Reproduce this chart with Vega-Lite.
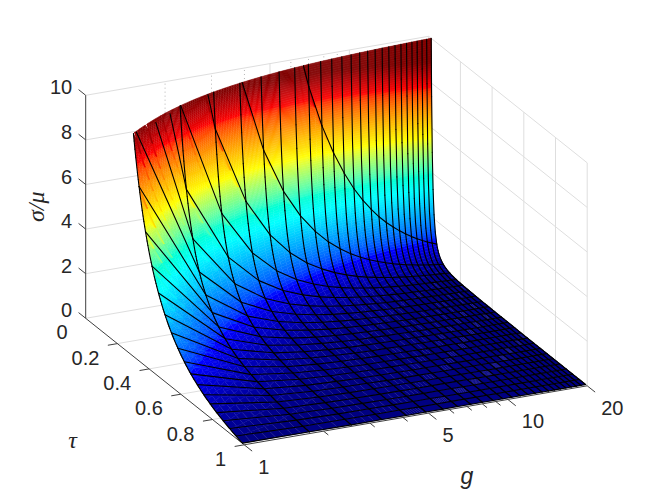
{"$schema":"https://vega.github.io/schema/vega-lite/v6.json","width":650,"height":500,"padding":0,"autosize":{"type":"fit","contains":"padding"},"background":"white","view":{"stroke":null},
"datasets":{
"surf":[
{"g":1,"v":[9999,386,118,56,32.3,20.8,14.4,10.4,7.82,6.02,4.71,3.74,3,2.42,1.96,1.58,1.27,1.02,0.8,0.62,0.46,0.33,0.21,0.11,0.02]},
{"g":1.792,"v":[3115,120,36.8,17.4,10.1,6.48,4.49,3.24,2.44,1.88,1.47,1.17,0.93,0.75,0.61,0.49,0.4,0.32,0.25,0.19,0.14,0.1,0.07,0.03,0.01]},
{"g":2.583,"v":[1499,57.9,17.7,8.4,4.84,3.12,2.16,1.56,1.17,0.9,0.71,0.56,0.45,0.36,0.29,0.24,0.19,0.15,0.12,0.09,0.07,0.05,0.03,0.02,0]},
{"g":3.375,"v":[878,33.9,10.4,4.92,2.84,1.83,1.26,0.91,0.69,0.53,0.41,0.33,0.26,0.21,0.17,0.14,0.11,0.09,0.07,0.05,0.04,0.03,0.02,0.01,0]},
{"g":4.167,"v":[576,22.2,6.8,3.23,1.86,1.2,0.83,0.6,0.45,0.35,0.27,0.22,0.17,0.14,0.11,0.09,0.07,0.06,0.05,0.04,0.03,0.02,0.01,0.01,0]},
{"g":4.958,"v":[407,15.7,4.8,2.28,1.31,0.85,0.59,0.42,0.32,0.24,0.19,0.15,0.12,0.1,0.08,0.06,0.05,0.04,0.03,0.03,0.02,0.01,0.01,0,0]},
{"g":5.75,"v":[302,11.7,3.57,1.69,0.98,0.63,0.44,0.31,0.24,0.18,0.14,0.11,0.09,0.07,0.06,0.05,0.04,0.03,0.02,0.02,0.01,0.01,0.01,0,0]},
{"g":6.542,"v":[234,9.02,2.76,1.31,0.75,0.49,0.34,0.24,0.18,0.14,0.11,0.09,0.07,0.06,0.05,0.04,0.03,0.02,0.02,0.01,0.01,0.01,0,0,0]},
{"g":7.333,"v":[186,7.17,2.19,1.04,0.6,0.39,0.27,0.19,0.15,0.11,0.09,0.07,0.06,0.04,0.04,0.03,0.02,0.02,0.01,0.01,0.01,0.01,0,0,0]},
{"g":8.125,"v":[151,5.85,1.79,0.85,0.49,0.32,0.22,0.16,0.12,0.09,0.07,0.06,0.05,0.04,0.03,0.02,0.02,0.02,0.01,0.01,0.01,0,0,0,0]},
{"g":8.917,"v":[126,4.86,1.48,0.7,0.41,0.26,0.18,0.13,0.1,0.08,0.06,0.05,0.04,0.03,0.02,0.02,0.02,0.01,0.01,0.01,0.01,0,0,0,0]},
{"g":9.708,"v":[106,4.09,1.25,0.59,0.34,0.22,0.15,0.11,0.08,0.06,0.05,0.04,0.03,0.03,0.02,0.02,0.01,0.01,0.01,0.01,0,0,0,0,0]},
{"g":10.5,"v":[90.7,3.5,1.07,0.51,0.29,0.19,0.13,0.09,0.07,0.05,0.04,0.03,0.03,0.02,0.02,0.01,0.01,0.01,0.01,0.01,0,0,0,0,0]},
{"g":11.29,"v":[78.4,3.03,0.93,0.44,0.25,0.16,0.11,0.08,0.06,0.05,0.04,0.03,0.02,0.02,0.02,0.01,0.01,0.01,0.01,0,0,0,0,0,0]},
{"g":12.08,"v":[68.5,2.64,0.81,0.38,0.22,0.14,0.1,0.07,0.05,0.04,0.03,0.03,0.02,0.02,0.01,0.01,0.01,0.01,0.01,0,0,0,0,0,0]},
{"g":12.875,"v":[60.3,2.33,0.71,0.34,0.19,0.13,0.09,0.06,0.05,0.04,0.03,0.02,0.02,0.01,0.01,0.01,0.01,0.01,0,0,0,0,0,0,0]},
{"g":13.67,"v":[53.5,2.07,0.63,0.3,0.17,0.11,0.08,0.06,0.04,0.03,0.03,0.02,0.02,0.01,0.01,0.01,0.01,0.01,0,0,0,0,0,0,0]},
{"g":14.46,"v":[47.8,1.85,0.56,0.27,0.15,0.1,0.07,0.05,0.04,0.03,0.02,0.02,0.01,0.01,0.01,0.01,0.01,0,0,0,0,0,0,0,0]},
{"g":15.25,"v":[43,1.66,0.51,0.24,0.14,0.09,0.06,0.04,0.03,0.03,0.02,0.02,0.01,0.01,0.01,0.01,0.01,0,0,0,0,0,0,0,0]},
{"g":16.04,"v":[38.9,1.5,0.46,0.22,0.13,0.08,0.06,0.04,0.03,0.02,0.02,0.01,0.01,0.01,0.01,0.01,0,0,0,0,0,0,0,0,0]},
{"g":16.83,"v":[35.3,1.36,0.42,0.2,0.11,0.07,0.05,0.04,0.03,0.02,0.02,0.01,0.01,0.01,0.01,0.01,0,0,0,0,0,0,0,0,0]},
{"g":17.63,"v":[32.2,1.24,0.38,0.18,0.1,0.07,0.05,0.03,0.03,0.02,0.02,0.01,0.01,0.01,0.01,0.01,0,0,0,0,0,0,0,0,0]},
{"g":18.42,"v":[29.5,1.14,0.35,0.17,0.1,0.06,0.04,0.03,0.02,0.02,0.01,0.01,0.01,0.01,0.01,0,0,0,0,0,0,0,0,0,0]},
{"g":19.21,"v":[27.1,1.05,0.32,0.15,0.09,0.06,0.04,0.03,0.02,0.02,0.01,0.01,0.01,0.01,0.01,0,0,0,0,0,0,0,0,0,0]},
{"g":20,"v":[25,0.97,0.3,0.14,0.08,0.05,0.04,0.03,0.02,0.02,0.01,0.01,0.01,0.01,0,0,0,0,0,0,0,0,0,0,0]}
],
"frame":[
{"k":"grid","g":1,"t":0,"z":0,"g2":20,"t2":0,"z2":0},{"k":"grid","g":1,"t":0,"z":2,"g2":20,"t2":0,"z2":2},{"k":"grid","g":1,"t":0,"z":4,"g2":20,"t2":0,"z2":4},{"k":"grid","g":1,"t":0,"z":6,"g2":20,"t2":0,"z2":6},{"k":"grid","g":1,"t":0,"z":8,"g2":20,"t2":0,"z2":8},{"k":"grid","g":1,"t":0,"z":10,"g2":20,"t2":0,"z2":10},
{"k":"grid","g":20,"t":0,"z":0,"g2":20,"t2":1,"z2":0},{"k":"grid","g":20,"t":0,"z":2,"g2":20,"t2":1,"z2":2},{"k":"grid","g":20,"t":0,"z":4,"g2":20,"t2":1,"z2":4},{"k":"grid","g":20,"t":0,"z":6,"g2":20,"t2":1,"z2":6},{"k":"grid","g":20,"t":0,"z":8,"g2":20,"t2":1,"z2":8},{"k":"grid","g":20,"t":0,"z":10,"g2":20,"t2":1,"z2":10},
{"k":"grid","g":5,"t":0,"z":0,"g2":5,"t2":0,"z2":10},{"k":"grid","g":10,"t":0,"z":0,"g2":10,"t2":0,"z2":10},{"k":"grid","g":20,"t":0,"z":0,"g2":20,"t2":0,"z2":10},
{"k":"grid","g":20,"t":0.2,"z":0,"g2":20,"t2":0.2,"z2":10},{"k":"grid","g":20,"t":0.4,"z":0,"g2":20,"t2":0.4,"z2":10},{"k":"grid","g":20,"t":0.6,"z":0,"g2":20,"t2":0.6,"z2":10},{"k":"grid","g":20,"t":0.8,"z":0,"g2":20,"t2":0.8,"z2":10},{"k":"grid","g":20,"t":1,"z":0,"g2":20,"t2":1,"z2":10},
{"k":"grid","g":1,"t":0.2,"z":0,"g2":20,"t2":0.2,"z2":0},{"k":"grid","g":1,"t":0.4,"z":0,"g2":20,"t2":0.4,"z2":0},{"k":"grid","g":1,"t":0.6,"z":0,"g2":20,"t2":0.6,"z2":0},{"k":"grid","g":1,"t":0.8,"z":0,"g2":20,"t2":0.8,"z2":0},
{"k":"minor","g":2,"t":0,"z":0,"g2":2,"t2":0,"z2":10},{"k":"minor","g":3,"t":0,"z":0,"g2":3,"t2":0,"z2":10},{"k":"minor","g":4,"t":0,"z":0,"g2":4,"t2":0,"z2":10},{"k":"minor","g":6,"t":0,"z":0,"g2":6,"t2":0,"z2":10},{"k":"minor","g":7,"t":0,"z":0,"g2":7,"t2":0,"z2":10},{"k":"minor","g":8,"t":0,"z":0,"g2":8,"t2":0,"z2":10},{"k":"minor","g":9,"t":0,"z":0,"g2":9,"t2":0,"z2":10},
{"k":"axis","g":1,"t":0,"z":0,"g2":1,"t2":0,"z2":10},{"k":"axis","g":1,"t":0,"z":0,"g2":1,"t2":1,"z2":0},{"k":"axis","g":1,"t":1,"z":0,"g2":20,"t2":1,"z2":0},
{"k":"axis","g":1,"t":0,"z":0,"g2":1,"t2":-0.045,"z2":0},{"k":"axis","g":1,"t":0,"z":2,"g2":1,"t2":-0.045,"z2":2},{"k":"axis","g":1,"t":0,"z":4,"g2":1,"t2":-0.045,"z2":4},{"k":"axis","g":1,"t":0,"z":6,"g2":1,"t2":-0.045,"z2":6},{"k":"axis","g":1,"t":0,"z":8,"g2":1,"t2":-0.045,"z2":8},{"k":"axis","g":1,"t":0,"z":10,"g2":1,"t2":-0.045,"z2":10},
{"k":"axis","g":1,"t":0.2,"z":0,"g2":0.92,"t2":0.2,"z2":0},{"k":"axis","g":1,"t":0.4,"z":0,"g2":0.92,"t2":0.4,"z2":0},{"k":"axis","g":1,"t":0.6,"z":0,"g2":0.92,"t2":0.6,"z2":0},{"k":"axis","g":1,"t":0.8,"z":0,"g2":0.92,"t2":0.8,"z2":0},{"k":"axis","g":1,"t":1,"z":0,"g2":0.92,"t2":1,"z2":0},
{"k":"axis","g":1,"t":1,"z":0,"g2":1,"t2":1.05,"z2":0},{"k":"axis","g":5,"t":1,"z":0,"g2":5,"t2":1.05,"z2":0},{"k":"axis","g":10,"t":1,"z":0,"g2":10,"t2":1.05,"z2":0},{"k":"axis","g":20,"t":1,"z":0,"g2":20,"t2":1.05,"z2":0},
{"k":"axis","g":2,"t":1,"z":0,"g2":2,"t2":1.03,"z2":0},{"k":"axis","g":3,"t":1,"z":0,"g2":3,"t2":1.03,"z2":0},{"k":"axis","g":4,"t":1,"z":0,"g2":4,"t2":1.03,"z2":0},{"k":"axis","g":6,"t":1,"z":0,"g2":6,"t2":1.03,"z2":0},{"k":"axis","g":7,"t":1,"z":0,"g2":7,"t2":1.03,"z2":0},{"k":"axis","g":8,"t":1,"z":0,"g2":8,"t2":1.03,"z2":0},{"k":"axis","g":9,"t":1,"z":0,"g2":9,"t2":1.03,"z2":0}
],
"labels":[
{"a":"z","s":"0","g":1,"t":0,"z":0},{"a":"z","s":"2","g":1,"t":0,"z":2},{"a":"z","s":"4","g":1,"t":0,"z":4},{"a":"z","s":"6","g":1,"t":0,"z":6},{"a":"z","s":"8","g":1,"t":0,"z":8},{"a":"z","s":"10","g":1,"t":0,"z":10},
{"a":"t","s":"0","g":1,"t":0,"z":0},{"a":"t","s":"0.2","g":1,"t":0.2,"z":0},{"a":"t","s":"0.4","g":1,"t":0.4,"z":0},{"a":"t","s":"0.6","g":1,"t":0.6,"z":0},{"a":"t","s":"0.8","g":1,"t":0.8,"z":0},{"a":"t","s":"1","g":1,"t":1,"z":0},
{"a":"g","s":"1","g":1,"t":1,"z":0},{"a":"g","s":"5","g":5,"t":1,"z":0},{"a":"g","s":"10","g":10,"t":1,"z":0},{"a":"g","s":"20","g":20,"t":1,"z":0}
],
"titles":[{"a":"z","s":"σ/μ","g":1,"t":0,"z":5},{"a":"t","s":"τ","g":1,"t":0.7,"z":0},{"a":"g","s":"g","g":7,"t":1,"z":0}]
},
"layer":[
{"data":{"name":"frame"},"transform":[{"filter":"datum.k=='grid'"},{"calculate":"85.7+343*log(datum.g)/log(20)+158.5*datum.t","as":"x"},{"calculate":"318.3-59*log(datum.g)/log(20)+126.5*datum.t-22.3*datum.z","as":"y"},{"calculate":"85.7+343*log(datum.g2)/log(20)+158.5*datum.t2","as":"x2"},{"calculate":"318.3-59*log(datum.g2)/log(20)+126.5*datum.t2-22.3*datum.z2","as":"y2"}],
"mark":{"type":"rule","color":"#dedede","strokeWidth":1},
"encoding":{"x":{"field":"x","type":"quantitative","scale":{"domain":[0,650],"nice":false,"zero":false},"axis":null},"y":{"field":"y","type":"quantitative","scale":{"domain":[0,500],"reverse":true,"nice":false,"zero":false},"axis":null},"x2":{"field":"x2"},"y2":{"field":"y2"}}},
{"data":{"name":"frame"},"transform":[{"filter":"datum.k=='minor'"},{"calculate":"85.7+343*log(datum.g)/log(20)+158.5*datum.t","as":"x"},{"calculate":"318.3-59*log(datum.g)/log(20)+126.5*datum.t-22.3*datum.z","as":"y"},{"calculate":"85.7+343*log(datum.g2)/log(20)+158.5*datum.t2","as":"x2"},{"calculate":"318.3-59*log(datum.g2)/log(20)+126.5*datum.t2-22.3*datum.z2","as":"y2"}],
"mark":{"type":"rule","color":"#b5b5b5","strokeWidth":1,"strokeDash":[1,3]},
"encoding":{"x":{"field":"x","type":"quantitative","axis":null},"y":{"field":"y","type":"quantitative","axis":null},"x2":{"field":"x2"},"y2":{"field":"y2"}}},
{"data":{"name":"frame"},"transform":[{"filter":"datum.k=='axis'"},{"calculate":"85.7+343*log(datum.g)/log(20)+158.5*datum.t","as":"x"},{"calculate":"318.3-59*log(datum.g)/log(20)+126.5*datum.t-22.3*datum.z","as":"y"},{"calculate":"85.7+343*log(datum.g2)/log(20)+158.5*datum.t2","as":"x2"},{"calculate":"318.3-59*log(datum.g2)/log(20)+126.5*datum.t2-22.3*datum.z2","as":"y2"}],
"mark":{"type":"rule","color":"#404040","strokeWidth":1},
"encoding":{"x":{"field":"x","type":"quantitative","axis":null},"y":{"field":"y","type":"quantitative","axis":null},"x2":{"field":"x2"},"y2":{"field":"y2"}}},
{"data":{"name":"surf"},"transform":[
{"flatten":["v"]},
{"window":[{"op":"row_number","as":"j"}],"groupby":["g"]},
{"calculate":"log([0.01,0.0508,0.0917,0.1325,0.1733,0.2142,0.255,0.2958,0.3367,0.3775,0.4183,0.4592,0.5,0.5408,0.5817,0.6225,0.6633,0.7042,0.745,0.7858,0.8267,0.8675,0.9083,0.9492,0.99][datum.j-1])","as":"lt"},
{"calculate":"log(datum.g)/log(20)","as":"L"},
{"calculate":"log(datum.v+0.003)","as":"lv"},
{"window":[{"op":"lead","field":"lv","as":"ln"},{"op":"lead","field":"lt","as":"ltn"}],"groupby":["g"],"sort":[{"field":"j"}]},
{"window":[{"op":"lead","field":"lv","as":"lg"},{"op":"lead","field":"ln","as":"lgn"},{"op":"lead","field":"L","as":"L1"}],"groupby":["j"],"sort":[{"field":"g"}]},
{"filter":"isValid(datum.ln)&&isValid(datum.lg)&&datum.lgn<2.3026"},
{"calculate":"datum.ln>2.3026?(datum.ln-2.3026)/(datum.ln-datum.lgn):0","as":"umin"},
{"calculate":"datum.lv>2.3026?16:clamp(ceil((datum.lv-datum.lg)/0.15),1,8)","as":"nu"},
{"calculate":"sequence(0,datum.nu)","as":"iu"},{"flatten":["iu"]},
{"calculate":"datum.umin+(1-datum.umin)*datum.iu/datum.nu","as":"u0"},
{"calculate":"datum.umin+(1-datum.umin)*(datum.iu+1)/datum.nu","as":"u1"},
{"calculate":"exp(datum.lv+(datum.lg-datum.lv)*datum.u0)-0.003","as":"vtop"},
{"calculate":"exp(datum.ln+(datum.lgn-datum.ln)*datum.u1)-0.003","as":"vbot"},
{"calculate":"floor(max(datum.vbot,0)/0.1)","as":"i0"},
{"calculate":"max(ceil(min(datum.vtop,10)/0.1),datum.i0+1)","as":"i1"},
{"calculate":"sequence(datum.i0,datum.i1)","as":"ib"},{"flatten":["ib"]},
{"calculate":"0.1*datum.ib","as":"a"},
{"calculate":"datum.a+0.1","as":"b"},
{"calculate":"(datum.a+0.05)*(1+0.12*datum.L*datum.L)","as":"c"},
{"calculate":"datum.g+'_'+datum.j+'_'+datum.iu+'_'+datum.ib","as":"id"},
{"calculate":"[0,1,2,3]","as":"k"},{"flatten":["k"]},
{"calculate":"datum.k==1||datum.k==2?datum.u1:datum.u0","as":"u"},
{"calculate":"datum.k<=1?datum.b:datum.a","as":"lev"},
{"calculate":"datum.lv+(datum.lg-datum.lv)*datum.u","as":"la"},
{"calculate":"datum.ln+(datum.lgn-datum.ln)*datum.u","as":"lb"},
{"calculate":"datum.la-datum.lb<0.000001?(datum.k<=1?0:1):clamp((datum.la-log(datum.lev+0.003))/(datum.la-datum.lb),0,1)","as":"w"},
{"calculate":"clamp(exp(datum.la+(datum.lb-datum.la)*datum.w)-0.003,0,10)","as":"zz"},
{"calculate":"exp(datum.lt+(datum.ltn-datum.lt)*datum.w)","as":"tt"},
{"calculate":"85.7+343*(datum.L+(datum.L1-datum.L)*datum.u)+158.5*datum.tt","as":"x"},
{"calculate":"318.3-59*(datum.L+(datum.L1-datum.L)*datum.u)+126.5*datum.tt-22.3*datum.zz","as":"y"}
],
"mark":{"type":"line","strokeWidth":0.5},
"encoding":{"x":{"field":"x","type":"quantitative","axis":null},"y":{"field":"y","type":"quantitative","axis":null},"detail":{"field":"id"},"order":{"field":"k"},
"fill":{"field":"c","type":"quantitative","legend":null,"scale":{"domain":[0,1.25,3.75,6.25,8.75,10],"range":["#00007c","#0000ff","#00ffff","#ffff00","#ff0000","#800000"],"clamp":true}},
"stroke":{"field":"c","type":"quantitative","legend":null,"scale":{"domain":[0,1.25,3.75,6.25,8.75,10],"range":["#00007c","#0000ff","#00ffff","#ffff00","#ff0000","#800000"],"clamp":true}}}},
{"data":{"name":"surf"},"transform":[
{"flatten":["v"]},
{"window":[{"op":"row_number","as":"j"}],"groupby":["g"]},
{"calculate":"log([0.01,0.0508,0.0917,0.1325,0.1733,0.2142,0.255,0.2958,0.3367,0.3775,0.4183,0.4592,0.5,0.5408,0.5817,0.6225,0.6633,0.7042,0.745,0.7858,0.8267,0.8675,0.9083,0.9492,0.99][datum.j-1])","as":"lt"},
{"calculate":"log(datum.g)/log(20)","as":"L"},
{"calculate":"log(datum.v+0.003)","as":"lv"},
{"window":[{"op":"lead","field":"lv","as":"ln"},{"op":"lead","field":"lt","as":"ltn"}],"groupby":["g"],"sort":[{"field":"j"}]},
{"filter":"isValid(datum.ln)"},
{"calculate":"[0,1,2,3,4,5,6,7]","as":"i"},{"flatten":["i"]},
{"calculate":"datum.i/8","as":"w0"},
{"calculate":"(datum.i+1)/8","as":"w1"},
{"filter":"datum.lv+(datum.ln-datum.lv)*datum.w1<2.3026"},
{"calculate":"datum.lv>datum.ln?max(datum.w0,(datum.lv-2.3026)/(datum.lv-datum.ln)):datum.w0","as":"w0c"},
{"calculate":"exp(datum.lt+(datum.ltn-datum.lt)*datum.w0c)","as":"t0"},
{"calculate":"exp(datum.lt+(datum.ltn-datum.lt)*datum.w1)","as":"t1"},
{"calculate":"exp(datum.lv+(datum.ln-datum.lv)*datum.w0c)-0.003","as":"z0"},
{"calculate":"exp(datum.lv+(datum.ln-datum.lv)*datum.w1)-0.003","as":"z1"},
{"calculate":"85.7+343*datum.L+158.5*datum.t0","as":"x"},
{"calculate":"318.3-59*datum.L+126.5*datum.t0-22.3*datum.z0","as":"y"},
{"calculate":"85.7+343*datum.L+158.5*datum.t1","as":"x2"},
{"calculate":"318.3-59*datum.L+126.5*datum.t1-22.3*datum.z1","as":"y2"}
],
"mark":{"type":"rule","color":"#000000","strokeWidth":1.1,"strokeCap":"round"},
"encoding":{"x":{"field":"x","type":"quantitative","axis":null},"y":{"field":"y","type":"quantitative","axis":null},"x2":{"field":"x2"},"y2":{"field":"y2"}}},
{"data":{"name":"surf"},"transform":[
{"flatten":["v"]},
{"window":[{"op":"row_number","as":"j"}],"groupby":["g"]},
{"calculate":"[0.01,0.0508,0.0917,0.1325,0.1733,0.2142,0.255,0.2958,0.3367,0.3775,0.4183,0.4592,0.5,0.5408,0.5817,0.6225,0.6633,0.7042,0.745,0.7858,0.8267,0.8675,0.9083,0.9492,0.99][datum.j-1]","as":"tau"},
{"calculate":"log(datum.g)/log(20)","as":"L"},
{"window":[{"op":"lead","field":"v","as":"vg"},{"op":"lead","field":"L","as":"L1"}],"groupby":["j"],"sort":[{"field":"g"}]},
{"filter":"isValid(datum.vg)&&datum.vg<10"},
{"calculate":"datum.v>10?datum.L+(datum.L1-datum.L)*(datum.v-10)/(datum.v-datum.vg):datum.L","as":"L0"},
{"calculate":"85.7+343*datum.L0+158.5*datum.tau","as":"x"},
{"calculate":"318.3-59*datum.L0+126.5*datum.tau-22.3*min(datum.v,10)","as":"y"},
{"calculate":"85.7+343*datum.L1+158.5*datum.tau","as":"x2"},
{"calculate":"318.3-59*datum.L1+126.5*datum.tau-22.3*datum.vg","as":"y2"}
],
"mark":{"type":"rule","color":"#000000","strokeWidth":1.1,"strokeCap":"round"},
"encoding":{"x":{"field":"x","type":"quantitative","axis":null},"y":{"field":"y","type":"quantitative","axis":null},"x2":{"field":"x2"},"y2":{"field":"y2"}}},
{"data":{"name":"labels"},"transform":[{"filter":"datum.a=='z'"},{"calculate":"85.7+343*log(datum.g)/log(20)+158.5*datum.t","as":"x"},{"calculate":"318.3-59*log(datum.g)/log(20)+126.5*datum.t-22.3*datum.z","as":"y"}],
"mark":{"type":"text","font":"Liberation Sans","fontSize":20,"color":"#262626","align":"right","baseline":"middle","dx":-13.5,"dy":-7},
"encoding":{"x":{"field":"x","type":"quantitative","axis":null},"y":{"field":"y","type":"quantitative","axis":null},"text":{"field":"s"}}},
{"data":{"name":"labels"},"transform":[{"filter":"datum.a=='t'"},{"calculate":"85.7+343*log(datum.g)/log(20)+158.5*datum.t","as":"x"},{"calculate":"318.3-59*log(datum.g)/log(20)+126.5*datum.t-22.3*datum.z","as":"y"}],
"mark":{"type":"text","font":"Liberation Sans","fontSize":20,"color":"#262626","align":"right","baseline":"middle","dx":-18,"dy":15},
"encoding":{"x":{"field":"x","type":"quantitative","axis":null},"y":{"field":"y","type":"quantitative","axis":null},"text":{"field":"s"}}},
{"data":{"name":"labels"},"transform":[{"filter":"datum.a=='g'"},{"calculate":"85.7+343*log(datum.g)/log(20)+158.5*datum.t","as":"x"},{"calculate":"318.3-59*log(datum.g)/log(20)+126.5*datum.t-22.3*datum.z","as":"y"}],
"mark":{"type":"text","font":"Liberation Sans","fontSize":20,"color":"#262626","align":"left","baseline":"middle","dx":14,"dy":23},
"encoding":{"x":{"field":"x","type":"quantitative","axis":null},"y":{"field":"y","type":"quantitative","axis":null},"text":{"field":"s"}}},
{"data":{"name":"titles"},"transform":[{"filter":"datum.a=='z'"},{"calculate":"85.7+343*log(datum.g)/log(20)+158.5*datum.t","as":"x"},{"calculate":"318.3-59*log(datum.g)/log(20)+126.5*datum.t-22.3*datum.z","as":"y"}],
"mark":{"type":"text","font":"Liberation Serif","fontStyle":"italic","fontSize":24,"color":"#262626","align":"center","baseline":"middle","angle":270,"dx":0,"dy":-49},
"encoding":{"x":{"field":"x","type":"quantitative","axis":null},"y":{"field":"y","type":"quantitative","axis":null},"text":{"field":"s"}}},
{"data":{"name":"titles"},"transform":[{"filter":"datum.a=='t'"},{"calculate":"85.7+343*log(datum.g)/log(20)+158.5*datum.t","as":"x"},{"calculate":"318.3-59*log(datum.g)/log(20)+126.5*datum.t-22.3*datum.z","as":"y"}],
"mark":{"type":"text","font":"Liberation Serif","fontStyle":"italic","fontSize":24,"color":"#262626","align":"center","baseline":"middle","dx":-124,"dy":34},
"encoding":{"x":{"field":"x","type":"quantitative","axis":null},"y":{"field":"y","type":"quantitative","axis":null},"text":{"field":"s"}}},
{"data":{"name":"titles"},"transform":[{"filter":"datum.a=='g'"},{"calculate":"85.7+343*log(datum.g)/log(20)+158.5*datum.t","as":"x"},{"calculate":"318.3-59*log(datum.g)/log(20)+126.5*datum.t-22.3*datum.z","as":"y"}],
"mark":{"type":"text","font":"Liberation Sans","fontStyle":"italic","fontSize":23,"color":"#262626","align":"center","baseline":"middle","dy":71},
"encoding":{"x":{"field":"x","type":"quantitative","axis":null},"y":{"field":"y","type":"quantitative","axis":null},"text":{"field":"s"}}}
]}
